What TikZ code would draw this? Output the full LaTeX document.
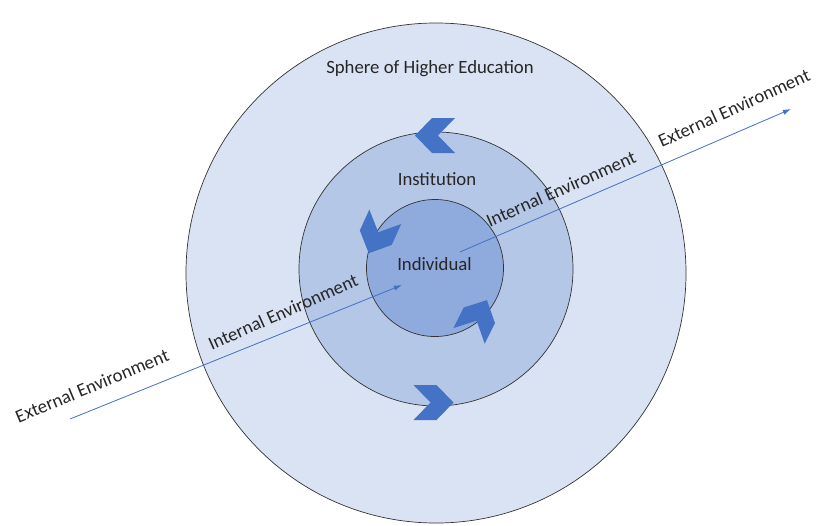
\documentclass[tikz,border=0pt]{standalone}
\usepackage{fontspec}
\setmainfont{Carlito}
\usepackage{tikz}
\usetikzlibrary{arrows.meta}
\definecolor{outerblue}{HTML}{DAE3F3}
\definecolor{midblue}{HTML}{B4C7E7}
\definecolor{innerblue}{HTML}{8FAADC}
\definecolor{chevblue}{HTML}{4472C4}
\newcommand{\chevron}[3]{\fill[chev,shift={(#1,#2)},rotate=#3] (-20,-17.5) -- (3,-17.5) -- (20,0) -- (3,17.5) -- (-20,17.5) -- (-3,0) -- cycle;}

\begin{document}
\begin{tikzpicture}[x=0.03cm,y=-0.03cm]
\tikzstyle{ring}=[circle, draw=black!80, line width=0.6pt, inner sep=0pt]
\tikzstyle{chev}=[fill=chevblue]
\tikzstyle{txt}=[inner sep=0pt, font=\fontsize{16}{19}\selectfont, text=black!85]
\tikzstyle{connect}=[-{Latex[length=7pt,width=4.5pt]}, draw=chevblue, line width=0.7pt]

\useasboundingbox (0,0) rectangle (816,525);

\node[ring, fill=outerblue, minimum size=15cm] (sphere) at (436,273) {};
\node[ring, fill=midblue, minimum size=8.22cm] (inst) at (436,269) {};
\node[ring, fill=innerblue, minimum size=4.11cm] (indiv) at (435,268) {};

\coordinate (s1) at (70,419);
\coordinate (e1) at (402,285);
\coordinate (s2) at (460,252);
\coordinate (e2) at (791,109);

\path
	(s1) edge[connect] (e1)
	(s2) edge[connect] (e2);

\chevron{435}{135.5}{180}
\chevron{433.5}{402.5}{0}
\chevron{377}{235}{245.6}
\chevron{478}{318}{63.4}

\node[txt] (sphlabel) at (430,69) {Sphere of Higher Education};
\node[txt] (instlabel) at (437,179) {Institution};
\node[txt] (indlabel) at (434.5,264) {Individual};
\node[txt, rotate=22.5] (ext1) at (92,386) {External Environment};
\node[txt, rotate=24] (int1) at (283,312) {Internal Environment};
\node[txt, rotate=24] (int2) at (561,189) {Internal Environment};
\node[txt, rotate=24.4] (ext2) at (734,108) {External Environment};

\end{tikzpicture}
\end{document}
